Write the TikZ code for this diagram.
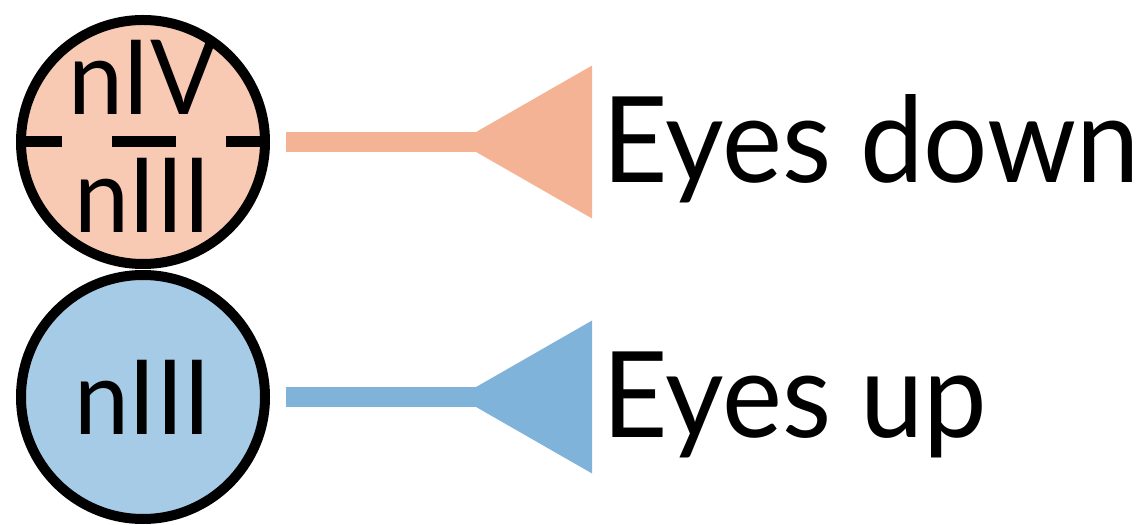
\documentclass[tikz,border=0pt]{standalone}
\usepackage{fontspec}
\setmainfont{Lato}[FakeStretch=0.95]
\usepackage{tikz}
\usetikzlibrary{positioning,arrows.meta}
\definecolor{downfill}{HTML}{F8C9B3}
\definecolor{downline}{HTML}{F4B394}
\definecolor{upfill}{HTML}{A6CBE6}
\definecolor{upline}{HTML}{80B3DA}

\begin{document}
\begin{tikzpicture}[
    nucleus/.style={draw, circle, line width=0.2cm, minimum size=4.88cm, inner sep=0pt, font=\fontsize{59}{70}\selectfont},
    numtext/.style={inner sep=0pt, anchor=base, font=\fontsize{59}{70}\selectfont},
    gaze/.style={inner sep=0pt, outer sep=0pt, anchor=base west, font=\fontsize{68}{80}\selectfont},
    axon/.style={line width=0.4cm, shorten <=0.32cm, shorten >=0.2cm, -{Triangle[reversed,length=2.68cm,width=2.95cm]}},
  ]
  \useasboundingbox (0,0) rectangle (22.96,10.48);
  \node[nucleus, fill=downfill] (down) at (2.86,7.64) {};
  \node[nucleus, fill=upfill] (up) at (2.86,2.54) {nIII};
  \node[numtext] (downnum) at (2.86,8.18) {nIV};
  \node[numtext] (downden) at (2.86,5.82) {nIII};
  \draw[line width=0.22cm, dash pattern=on 1.28cm off 1cm, dash phase=0.36cm] (down.west) -- (down.east);
  \node[gaze] (downtxt) at (12.04,6.82) {Eyes down};
  \node[gaze] (uptxt) at (12.04,1.72) {Eyes up};
  \draw[axon, downline] (down.east) -- (down.east -| downtxt.west);
  \draw[axon, upline] (up.east) -- (up.east -| uptxt.west);
\end{tikzpicture}
\end{document}
